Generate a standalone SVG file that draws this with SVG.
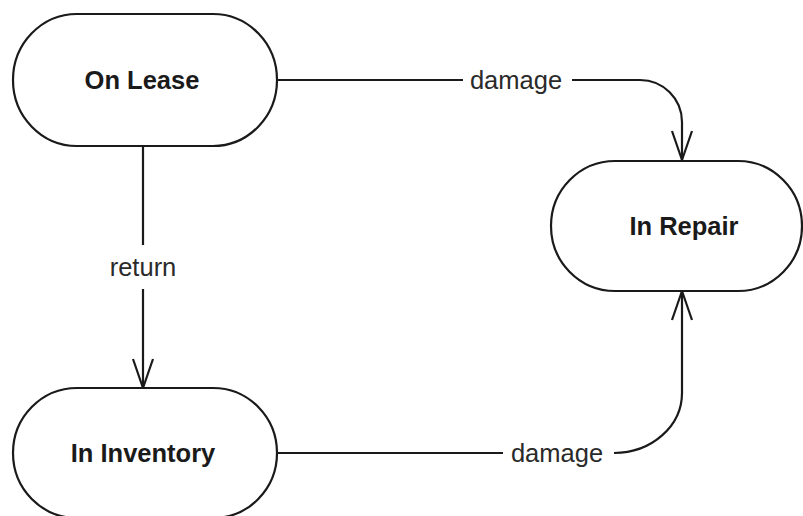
<svg xmlns="http://www.w3.org/2000/svg" width="803" height="516" viewBox="0 0 803 516">
  <defs>
    <marker id="open" markerWidth="32" markerHeight="24" refX="29" refY="11" orient="auto" markerUnits="userSpaceOnUse" viewBox="0 0 32 22" overflow="visible">
      <path d="M0,1 L29,11 L0,21" fill="none" stroke="#1a1a1a" stroke-width="2.2" stroke-linejoin="miter"/>
    </marker>
    <style>
      .node { fill: #ffffff; stroke: #1a1a1a; stroke-width: 2.2; }
      .ntext { font-family: "Liberation Sans", Arial, sans-serif; font-weight: bold; font-size: 25.5px; fill: #1a1a1a; text-anchor: middle; }
      .edge { fill: none; stroke: #1a1a1a; stroke-width: 2.2; }
      .ltext { font-family: "Liberation Sans", Arial, sans-serif; font-size: 25.5px; fill: #2a2a2a; text-anchor: middle; }
    </style>
  </defs>
  <rect width="803" height="516" fill="#ffffff"/>

  <g id="connectors">
    <!-- On Lease -> In Repair -->
    <path class="edge" d="M277,80 H463"/>
    <path class="edge" d="M572,80 H640 A42,42 0 0 1 682,122 V160" marker-end="url(#open)"/>
    <text class="ltext" x="516" y="89">damage</text>
    <!-- On Lease -> In Inventory -->
    <path class="edge" d="M143,146 V245"/>
    <path class="edge" d="M143,289 V388" marker-end="url(#open)"/>
    <text class="ltext" x="143" y="276">return</text>
    <!-- In Inventory -> In Repair -->
    <path class="edge" d="M277,453 H503"/>
    <path class="edge" d="M614,453 A68,60 0 0 0 682,393 V291" marker-end="url(#open)"/>
    <text class="ltext" x="557" y="462">damage</text>
  </g>

  <g id="on-lease">
    <rect class="node" x="13" y="14" width="264" height="132" rx="64" ry="66"/>
    <text class="ntext" x="142" y="89">On Lease</text>
  </g>
  <g id="in-repair">
    <rect class="node" x="551" y="161" width="251" height="130" rx="64" ry="65"/>
    <text class="ntext" x="684" y="235">In Repair</text>
  </g>
  <g id="in-inventory">
    <rect class="node" x="13" y="388" width="264" height="130" rx="64" ry="65"/>
    <text class="ntext" x="143" y="462">In Inventory</text>
  </g>
</svg>
